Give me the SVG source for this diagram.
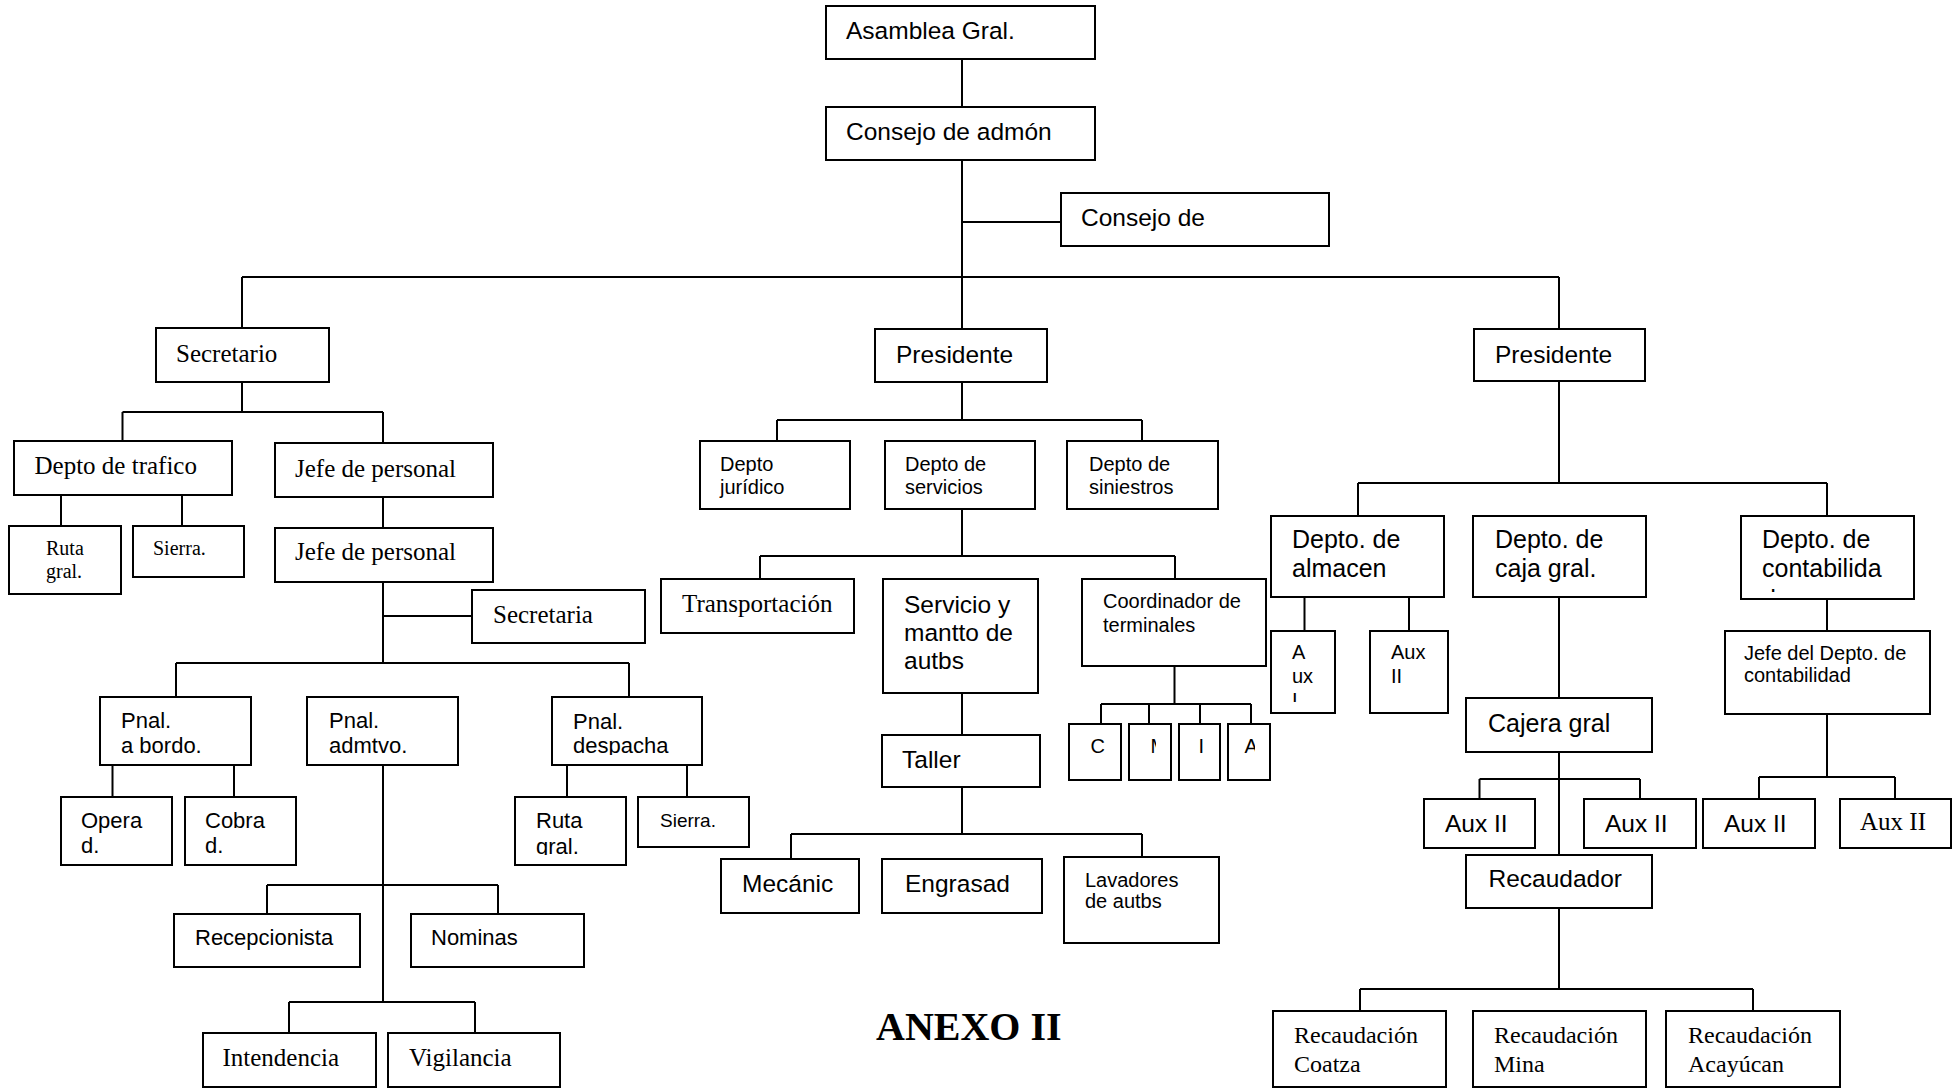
<svg xmlns="http://www.w3.org/2000/svg" width="1959" height="1088" viewBox="0 0 1959 1088">
<style>
.b{fill:#fff;stroke:#000;stroke-width:2}
.c{fill:none;stroke:#000;stroke-width:2}
.a{font-family:"Liberation Sans",Arial,sans-serif;fill:#000}
.t{font-family:"Liberation Serif","Times New Roman",serif;fill:#000}
.s24{font-size:24.5px}.s22{font-size:22px}.s20{font-size:20px}.s19{font-size:19px}
.t25{font-size:25px}.t24{font-size:24px}.t20{font-size:20px}
</style>
<defs>
<clipPath id="cpDesp"><rect x="552" y="697" width="150" height="58"/></clipPath>
<clipPath id="cpRuta2"><rect x="515" y="797" width="111" height="58"/></clipPath>
<clipPath id="cpAuxI"><rect x="1271" y="631" width="64" height="71"/></clipPath>
<clipPath id="cpConta"><rect x="1741" y="516" width="173" height="76"/></clipPath>
<clipPath id="cpM"><rect x="1150" y="724" width="6" height="56"/></clipPath>
<clipPath id="cpA"><rect x="1244" y="724" width="11" height="56"/></clipPath>
</defs>
<rect width="1959" height="1088" fill="#fff"/>
<g id="connectors" class="c">
<path d="M962 59V107M962 160V329M962 222H1061M242 277H1559M242 277V328M1559 277V329"/>
<path d="M242 382V412M122.5 412H383M122.5 412V441M383 412V443M61 495V526M182 495V526M383 497V528M383 582V663M383 616H472M176 663H629M176 663V697M629 663V697M112.5 765V797M234 765V797M567 765V797M687 765V797M383 765V1002M267 885H498M267 885V914M498 885V914M289 1002H475M289 1002V1033M475 1002V1033"/>
<path d="M962 381V420M777 420H1142M777 420V441M1142 420V441M962 509V556M760 556H1175M760 556V579M1175 556V579M1174.5 666V704M1101 704H1251M1101 704V724M1149 704V724M1200 704V724M1251 704V724M962 693V735M962 787V834M791 834H1142M791 834V859M1142 834V857"/>
<path d="M1559 381V483M1358 483H1827M1358 483V516M1827 483V516M1559 597V698M1304.5 597V631M1409 597V631M1559 752V855M1479.5 779H1640M1479.5 779V799M1640 779V799M1559 908V989M1360 989H1753M1360 989V1011M1753 989V1011M1827 599V631M1827 714V777M1759 777H1895M1759 777V799M1895 777V799"/>
</g>
<g id="asamblea"><rect class="b" x="826" y="6" width="269" height="53"/><text class="a s24" x="846" y="39">Asamblea Gral.</text></g>
<g id="consejo-admon"><rect class="b" x="826" y="107" width="269" height="53"/><text class="a s24" x="846" y="140">Consejo de admón</text></g>
<g id="consejo-de"><rect class="b" x="1061" y="193" width="268" height="53"/><text class="a s24" x="1081" y="226">Consejo de</text></g>
<g id="secretario"><rect class="b" x="156" y="328" width="173" height="54"/><text class="t t25" x="176" y="362">Secretario</text></g>
<g id="presidente-1"><rect class="b" x="875" y="329" width="172" height="53"/><text class="a s24" x="896" y="363">Presidente</text></g>
<g id="presidente-2"><rect class="b" x="1474" y="329" width="171" height="52"/><text class="a s24" x="1495" y="363">Presidente</text></g>
<g id="depto-trafico"><rect class="b" x="14" y="441" width="218" height="54"/><text class="t t25" x="34.5" y="474">Depto de trafico</text></g>
<g id="jefe-personal-1"><rect class="b" x="275" y="443" width="218" height="54"/><text class="t t25" x="295" y="477">Jefe de personal</text></g>
<g id="ruta-gral-1"><rect class="b" x="9" y="526" width="112" height="68"/><text class="t t20" x="46" y="555">Ruta</text><text class="t t20" x="46" y="578">gral.</text></g>
<g id="sierra-1"><rect class="b" x="133" y="526" width="111" height="51"/><text class="t t20" x="153" y="555">Sierra.</text></g>
<g id="jefe-personal-2"><rect class="b" x="275" y="528" width="218" height="54"/><text class="t t25" x="295" y="560">Jefe de personal</text></g>
<g id="secretaria"><rect class="b" x="472" y="590" width="173" height="53"/><text class="t t25" x="493" y="623">Secretaria</text></g>
<g id="pnal-bordo"><rect class="b" x="100" y="697" width="151" height="68"/><text class="a s22" x="121" y="728">Pnal.</text><text class="a s22" x="121" y="753">a bordo.</text></g>
<g id="pnal-admtvo"><rect class="b" x="307" y="697" width="151" height="68"/><text class="a s22" x="329" y="728">Pnal.</text><text class="a s22" x="329" y="753">admtvo.</text></g>
<g id="pnal-despacha"><rect class="b" x="552" y="697" width="150" height="68"/><g clip-path="url(#cpDesp)"><text class="a s22" x="573" y="729">Pnal.</text><text class="a s22" x="573" y="753">despacha</text></g></g>
<g id="operad"><rect class="b" x="61" y="797" width="111" height="68"/><text class="a s22" x="81" y="828">Opera</text><text class="a s22" x="81" y="853">d.</text></g>
<g id="cobrad"><rect class="b" x="185" y="797" width="111" height="68"/><text class="a s22" x="205" y="828">Cobra</text><text class="a s22" x="205" y="853">d.</text></g>
<g id="ruta-gral-2"><rect class="b" x="515" y="797" width="111" height="68"/><g clip-path="url(#cpRuta2)"><text class="a s22" x="536" y="828">Ruta</text><text class="a s22" x="536" y="854">gral.</text></g></g>
<g id="sierra-2"><rect class="b" x="638" y="797" width="111" height="50"/><text class="a s19" x="660" y="827">Sierra.</text></g>
<g id="recepcionista"><rect class="b" x="174" y="914" width="186" height="53"/><text class="a s22" x="195" y="945">Recepcionista</text></g>
<g id="nominas"><rect class="b" x="411" y="914" width="173" height="53"/><text class="a s22" x="431" y="945">Nominas</text></g>
<g id="intendencia"><rect class="b" x="203" y="1033" width="173" height="54"/><text class="t t25" x="222.5" y="1066">Intendencia</text></g>
<g id="vigilancia"><rect class="b" x="388" y="1033" width="172" height="54"/><text class="t t25" x="409" y="1066">Vigilancia</text></g>
<g id="depto-juridico"><rect class="b" x="700" y="441" width="150" height="68"/><text class="a s20" x="720" y="471">Depto</text><text class="a s20" x="720" y="494">jurídico</text></g>
<g id="depto-servicios"><rect class="b" x="885" y="441" width="150" height="68"/><text class="a s20" x="905" y="471">Depto de</text><text class="a s20" x="905" y="494">servicios</text></g>
<g id="depto-siniestros"><rect class="b" x="1067" y="441" width="151" height="68"/><text class="a s20" x="1089" y="471">Depto de</text><text class="a s20" x="1089" y="494">siniestros</text></g>
<g id="transportacion"><rect class="b" x="661" y="579" width="193" height="54"/><text class="t t25" x="682" y="612">Transportación</text></g>
<g id="servicio-mantto"><rect class="b" x="883" y="579" width="155" height="114"/><text class="a s24" x="904" y="613">Servicio y</text><text class="a s24" x="904" y="641">mantto de</text><text class="a s24" x="904" y="669">autbs</text></g>
<g id="coordinador"><rect class="b" x="1082" y="579" width="184" height="87"/><text class="a s20" x="1103" y="608">Coordinador de</text><text class="a s20" x="1103" y="632">terminales</text></g>
<g id="term-c"><rect class="b" x="1069" y="724" width="52" height="56"/><text class="a s20" x="1090.5" y="753">C</text></g>
<g id="term-m"><rect class="b" x="1129" y="724" width="42" height="56"/><text class="a s20" x="1150.5" y="753" clip-path="url(#cpM)">M</text></g>
<g id="term-i"><rect class="b" x="1179" y="724" width="41" height="56"/><text class="a s20" x="1198.5" y="753">I</text></g>
<g id="term-a"><rect class="b" x="1228" y="724" width="42" height="56"/><text class="a s20" x="1244.5" y="753" clip-path="url(#cpA)">A</text></g>
<g id="taller"><rect class="b" x="882" y="735" width="158" height="52"/><text class="a s24" x="902" y="768">Taller</text></g>
<g id="mecanic"><rect class="b" x="721" y="859" width="138" height="54"/><text class="a s24" x="742" y="892">Mecánic</text></g>
<g id="engrasad"><rect class="b" x="882" y="859" width="160" height="54"/><text class="a s24" x="905" y="892">Engrasad</text></g>
<g id="lavadores"><rect class="b" x="1064" y="857" width="155" height="86"/><text class="a s20" x="1085" y="887">Lavadores</text><text class="a s20" x="1085" y="908">de autbs</text></g>
<g id="almacen"><rect class="b" x="1271" y="516" width="173" height="81"/><text class="a t25" x="1292" y="548">Depto. de</text><text class="a t25" x="1292" y="577">almacen</text></g>
<g id="caja-gral"><rect class="b" x="1473" y="516" width="173" height="81"/><text class="a t25" x="1495" y="548">Depto. de</text><text class="a t25" x="1495" y="577">caja gral.</text></g>
<g id="contabilidad"><rect class="b" x="1741" y="516" width="173" height="83"/><g clip-path="url(#cpConta)"><text class="a t25" x="1762" y="548">Depto. de</text><text class="a t25" x="1762" y="577">contabilida</text><text class="a t25" x="1762" y="608">d</text></g></g>
<g id="aux-i"><rect class="b" x="1271" y="631" width="64" height="82"/><g clip-path="url(#cpAuxI)"><text class="a s20" x="1292" y="659">A</text><text class="a s20" x="1292" y="683">ux</text><text class="a s20" x="1292" y="707">I</text></g></g>
<g id="aux-ii-alm"><rect class="b" x="1370" y="631" width="78" height="82"/><text class="a s20" x="1391" y="659">Aux</text><text class="a s20" x="1391" y="683">II</text></g>
<g id="cajera"><rect class="b" x="1466" y="698" width="186" height="54"/><text class="a t25" x="1488" y="732">Cajera gral</text></g>
<g id="jefe-contab"><rect class="b" x="1725" y="631" width="205" height="83"/><text class="a s20" x="1744" y="660">Jefe del Depto. de</text><text class="a s20" x="1744" y="682">contabilidad</text></g>
<g id="aux-ii-c1"><rect class="b" x="1424" y="799" width="111" height="49"/><text class="a s24" x="1445" y="832">Aux II</text></g>
<g id="aux-ii-c2"><rect class="b" x="1584" y="799" width="112" height="49"/><text class="a s24" x="1605" y="832">Aux II</text></g>
<g id="aux-ii-k1"><rect class="b" x="1703" y="799" width="112" height="49"/><text class="a s24" x="1724" y="832">Aux II</text></g>
<g id="aux-ii-k2"><rect class="b" x="1840" y="799" width="111" height="49"/><text class="t t25" x="1860" y="830">Aux II</text></g>
<g id="recaudador"><rect class="b" x="1466" y="855" width="186" height="53"/><text class="a s24" x="1488.5" y="887">Recaudador</text></g>
<g id="rec-coatza"><rect class="b" x="1273" y="1011" width="173" height="76"/><text class="t t24" x="1294" y="1043">Recaudación</text><text class="t t24" x="1294" y="1072">Coatza</text></g>
<g id="rec-mina"><rect class="b" x="1473" y="1011" width="173" height="76"/><text class="t t24" x="1494" y="1043">Recaudación</text><text class="t t24" x="1494" y="1072">Mina</text></g>
<g id="rec-acayucan"><rect class="b" x="1666" y="1011" width="174" height="76"/><text class="t t24" x="1688" y="1043">Recaudación</text><text class="t t24" x="1688" y="1072">Acayúcan</text></g>
<text class="t" x="876" y="1040" font-size="40" font-weight="bold">ANEXO II</text>
</svg>
